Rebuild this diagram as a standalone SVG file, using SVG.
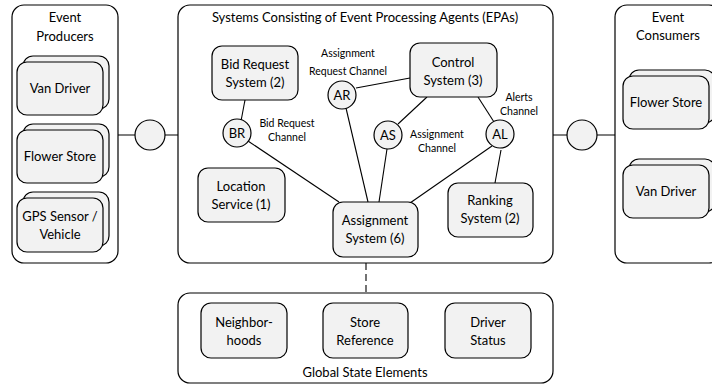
<svg xmlns="http://www.w3.org/2000/svg" width="712" height="385" viewBox="0 0 712 385">
<style>
.box{fill:#ffffff;stroke:#000;stroke-width:1.2}
.node{fill:#f2f2f2;stroke:#000;stroke-width:1.2}
.t{font-family:Lato,"Open Sans","Liberation Sans",sans-serif;font-size:13px;fill:#000;text-anchor:middle}
.s{font-family:Lato,"Open Sans","Liberation Sans",sans-serif;font-size:10.5px;fill:#000;text-anchor:middle}
.ln{stroke:#000;stroke-width:1.1;fill:none}
</style>
<rect width="712" height="385" fill="#fff"/>
<g id="producers">
<rect class="box" x="12" y="5" width="106" height="258" rx="12"/>
<text class="t" x="65" y="22">Event</text>
<text class="t" x="65" y="41">Producers</text>
</g>
<g id="systems">
<rect class="box" x="178" y="5" width="375" height="258" rx="12"/>
<text class="t" x="365" y="22">Systems Consisting of Event Processing Agents (EPAs)</text>
</g>
<g id="consumers">
<rect class="box" x="615" y="5" width="106" height="258" rx="12"/>
<text class="t" x="668" y="22">Event</text>
<text class="t" x="668" y="40">Consumers</text>
</g>
<g id="global">
<rect class="box" x="178" y="293" width="375" height="90" rx="12"/>
<text class="t" x="365" y="377">Global State Elements</text>
</g>
<g id="connectors">
<line class="ln" x1="118" y1="135" x2="178" y2="135"/>
<line class="ln" x1="553" y1="135" x2="615" y2="135"/>
<line class="ln" x1="366" y1="263" x2="366" y2="293" stroke-dasharray="7,4"/>
<line class="ln" x1="245" y1="100" x2="241" y2="121"/>
<line class="ln" x1="248" y1="141" x2="339" y2="202"/>
<line class="ln" x1="356" y1="88" x2="410" y2="78"/>
<line class="ln" x1="346" y1="108" x2="368" y2="202"/>
<line class="ln" x1="427" y1="97" x2="398" y2="124"/>
<line class="ln" x1="387" y1="149" x2="379" y2="202"/>
<line class="ln" x1="478" y1="97" x2="494" y2="122"/>
<line class="ln" x1="492" y1="146" x2="410" y2="203"/>
<line class="ln" x1="501" y1="150" x2="495" y2="183"/>
</g>
<g id="prod-van">
<rect class="node" x="23" y="56" width="86" height="53" rx="10"/>
<rect class="node" x="17" y="62" width="86" height="53" rx="10"/>
<text class="t" x="60" y="93">Van Driver</text>
</g>
<g id="prod-flower">
<rect class="node" x="23" y="124" width="86" height="53" rx="10"/>
<rect class="node" x="17" y="130" width="86" height="53" rx="10"/>
<text class="t" x="60" y="161">Flower Store</text>
</g>
<g id="prod-gps">
<rect class="node" x="23" y="192" width="86" height="54" rx="10"/>
<rect class="node" x="17" y="198" width="86" height="54" rx="10"/>
<text class="t" x="60" y="221">GPS Sensor /</text>
<text class="t" x="60" y="239">Vehicle</text>
</g>
<g id="conn-left"><circle class="node" cx="150" cy="135" r="15"/></g>
<g id="conn-right"><circle class="node" cx="582" cy="135" r="15"/></g>
<g id="bid-request">
<rect class="node" x="212" y="46" width="86" height="54" rx="10"/>
<text class="t" x="255" y="69">Bid Request</text>
<text class="t" x="255" y="87">System (2)</text>
</g>
<g id="br">
<circle class="node" cx="237" cy="133" r="14"/>
<text class="t" x="237" y="138">BR</text>
<text class="s" x="287" y="127">Bid Request</text>
<text class="s" x="287" y="141">Channel</text>
</g>
<g id="ar">
<circle class="node" cx="342" cy="95" r="14"/>
<text class="t" x="342" y="100">AR</text>
<text class="s" x="348" y="57">Assignment</text>
<text class="s" x="348" y="75">Request Channel</text>
</g>
<g id="control">
<rect class="node" x="410" y="43" width="87" height="54" rx="10"/>
<text class="t" x="453" y="67">Control</text>
<text class="t" x="453" y="85">System (3)</text>
</g>
<g id="as">
<circle class="node" cx="388" cy="135" r="14"/>
<text class="t" x="388" y="140">AS</text>
<text class="s" x="437" y="138">Assignment</text>
<text class="s" x="437" y="152">Channel</text>
</g>
<g id="al">
<circle class="node" cx="500" cy="134" r="14"/>
<text class="t" x="500" y="139">AL</text>
<text class="s" x="519" y="101">Alerts</text>
<text class="s" x="519" y="115">Channel</text>
</g>
<g id="location">
<rect class="node" x="198" y="168" width="87" height="54" rx="10"/>
<text class="t" x="241" y="191">Location</text>
<text class="t" x="241" y="209">Service (1)</text>
</g>
<g id="assignment">
<rect class="node" x="333" y="202" width="85" height="55" rx="10"/>
<text class="t" x="375" y="225">Assignment</text>
<text class="t" x="375" y="243">System (6)</text>
</g>
<g id="ranking">
<rect class="node" x="448" y="183" width="85" height="54" rx="10"/>
<text class="t" x="490" y="205">Ranking</text>
<text class="t" x="490" y="223">System (2)</text>
</g>
<g id="cons-flower">
<rect class="node" x="629" y="70" width="86" height="53" rx="10"/>
<rect class="node" x="623" y="76" width="86" height="53" rx="10"/>
<text class="t" x="666" y="107">Flower Store</text>
</g>
<g id="cons-van">
<rect class="node" x="629" y="159" width="86" height="53" rx="10"/>
<rect class="node" x="623" y="165" width="86" height="53" rx="10"/>
<text class="t" x="666" y="196">Van Driver</text>
</g>
<g id="neighborhoods">
<rect class="node" x="201" y="303" width="86" height="55" rx="10"/>
<text class="t" x="244" y="327">Neighbor-</text>
<text class="t" x="244" y="345">hoods</text>
</g>
<g id="store-ref">
<rect class="node" x="323" y="303" width="85" height="55" rx="10"/>
<text class="t" x="365" y="327">Store</text>
<text class="t" x="365" y="345">Reference</text>
</g>
<g id="driver-status">
<rect class="node" x="445" y="303" width="86" height="55" rx="10"/>
<text class="t" x="488" y="327">Driver</text>
<text class="t" x="488" y="345">Status</text>
</g>
</svg>
